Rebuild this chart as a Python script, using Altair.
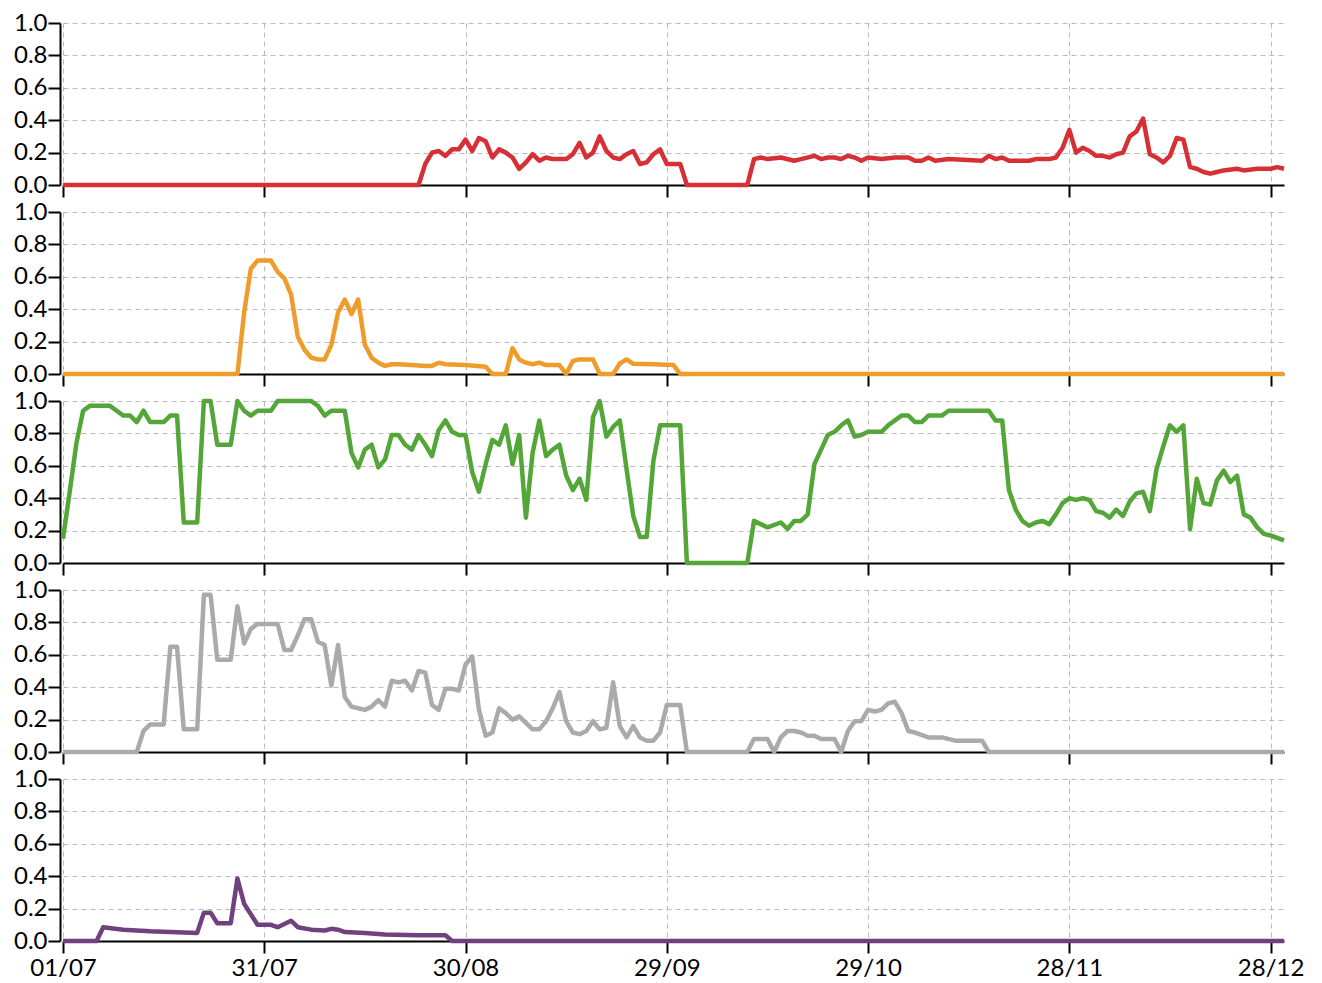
import altair as alt
import pandas as pd

# x positions are days counted from 01/07; ticks every 30 days
TICK_DAYS = [0, 30, 60, 90, 120, 150, 180]
TICK_LABELS = ["01/07", "31/07", "30/08", "29/09", "29/10", "28/11", "28/12"]
Y_TICKS = [0.0, 0.2, 0.4, 0.6, 0.8, 1.0]

red_days = [0, 53, 54, 55, 56, 57, 58, 59, 60, 61, 62, 63, 64, 65, 66, 67, 68, 69, 70, 71,
            72, 73, 74, 75, 76, 77, 78, 79, 80, 81, 82, 83, 84, 85, 86, 87, 88, 89, 90, 92,
            93, 102, 103, 104, 105, 107, 109, 110, 112, 113, 114, 115, 116, 117, 118, 119, 120, 122, 124, 126,
            127, 128, 129, 130, 132, 137, 138, 139, 140, 141, 144, 145, 147, 148, 149, 150, 151, 152, 153, 154,
            155, 156, 157, 158, 159, 160, 161, 162, 163, 164, 165, 166, 167, 168, 169, 170, 171, 172, 173, 175,
            176, 178, 180, 181, 182]
red_vals = [0, 0, 0.13, 0.2, 0.21, 0.18, 0.22, 0.22, 0.28, 0.21, 0.29, 0.27, 0.17, 0.22, 0.2, 0.17, 0.1, 0.14, 0.19, 0.15,
            0.17, 0.16, 0.16, 0.16, 0.19, 0.26, 0.17, 0.2, 0.3, 0.21, 0.17, 0.16, 0.19, 0.21, 0.13, 0.14, 0.19, 0.22, 0.13, 0.13,
            0, 0, 0.16, 0.17, 0.16, 0.17, 0.15, 0.16, 0.18, 0.16, 0.17, 0.17, 0.16, 0.18, 0.17, 0.15, 0.17, 0.16, 0.17, 0.17,
            0.15, 0.15, 0.17, 0.15, 0.16, 0.15, 0.18, 0.16, 0.17, 0.15, 0.15, 0.16, 0.16, 0.17, 0.23, 0.34, 0.2, 0.23, 0.21, 0.18,
            0.18, 0.17, 0.19, 0.2, 0.3, 0.33, 0.41, 0.19, 0.17, 0.14, 0.18, 0.29, 0.28, 0.11, 0.1, 0.08, 0.07, 0.08, 0.09, 0.1,
            0.09, 0.1, 0.1, 0.11, 0.1]

orange_days = [0, 26, 27, 28, 29, 31, 32, 33, 34, 35, 36, 37, 38, 39, 40, 41, 42, 43, 44, 45,
               46, 47, 48, 49, 50, 52, 54, 55, 56, 57, 60, 63, 64, 66, 67, 68, 69, 70, 71, 72,
               74, 75, 76, 77, 79, 80, 82, 83, 84, 85, 88, 91, 92, 182]
orange_vals = [0, 0, 0.38, 0.65, 0.7, 0.7, 0.63, 0.59, 0.49, 0.23, 0.15, 0.1, 0.09, 0.09, 0.18, 0.38, 0.46, 0.37, 0.46, 0.18,
               0.1, 0.07, 0.05, 0.06, 0.06, 0.055, 0.05, 0.05, 0.07, 0.06, 0.055, 0.045, 0, 0, 0.16, 0.09, 0.07, 0.06, 0.07, 0.055,
               0.055, 0, 0.08, 0.09, 0.09, 0, 0, 0.065, 0.09, 0.063, 0.06, 0.055, 0, 0]

green_days = [0, 1, 2, 3, 4, 7, 8, 9, 10, 11, 12, 13, 15, 16, 17, 18, 20, 21, 22, 23,
              25, 26, 27, 28, 29, 31, 32, 37, 38, 39, 40, 42, 43, 44, 45, 46, 47, 48, 49, 50,
              51, 52, 53, 54, 55, 56, 57, 58, 59, 60, 61, 62, 63, 64, 65, 66, 67, 68, 69, 70,
              71, 72, 73, 74, 75, 76, 77, 78, 79, 80, 81, 82, 83, 84, 85, 86, 87, 88, 89, 92,
              93, 102, 103, 105, 107, 108, 109, 110, 111, 112, 113, 114, 115, 116, 117, 118, 119, 120, 122, 123,
              124, 125, 126, 127, 128, 129, 131, 132, 138, 139, 140, 141, 142, 143, 144, 145, 146, 147, 148, 149,
              150, 151, 152, 153, 154, 155, 156, 157, 158, 159, 160, 161, 162, 163, 164, 165, 166, 167, 168, 169,
              170, 171, 172, 173, 174, 175, 176, 177, 178, 179, 180, 182]
green_vals = [0.15, 0.44, 0.74, 0.94, 0.97, 0.97, 0.94, 0.91, 0.91, 0.87, 0.94, 0.87, 0.87, 0.91, 0.91, 0.25, 0.25, 1.0, 1.0, 0.73,
              0.73, 1.0, 0.94, 0.91, 0.94, 0.94, 1.0, 1.0, 0.97, 0.91, 0.94, 0.94, 0.68, 0.59, 0.7, 0.73, 0.59, 0.64, 0.79, 0.79,
              0.73, 0.7, 0.79, 0.73, 0.66, 0.82, 0.88, 0.81, 0.79, 0.79, 0.56, 0.44, 0.61, 0.76, 0.73, 0.85, 0.61, 0.79, 0.28, 0.68,
              0.88, 0.66, 0.7, 0.73, 0.54, 0.45, 0.52, 0.39, 0.9, 1.0, 0.78, 0.84, 0.88, 0.58, 0.29, 0.16, 0.16, 0.63, 0.85, 0.85,
              0, 0, 0.26, 0.22, 0.25, 0.21, 0.26, 0.26, 0.3, 0.61, 0.7, 0.79, 0.81, 0.85, 0.88, 0.78, 0.79, 0.81, 0.81, 0.85,
              0.88, 0.91, 0.91, 0.87, 0.87, 0.91, 0.91, 0.94, 0.94, 0.88, 0.88, 0.45, 0.33, 0.26, 0.23, 0.25, 0.26, 0.24, 0.3, 0.37,
              0.4, 0.39, 0.4, 0.39, 0.32, 0.31, 0.28, 0.33, 0.29, 0.38, 0.43, 0.44, 0.32, 0.58, 0.72, 0.85, 0.81, 0.85, 0.21, 0.52,
              0.37, 0.36, 0.51, 0.57, 0.5, 0.54, 0.3, 0.28, 0.22, 0.18, 0.17, 0.14]

gray_days = [0, 11, 12, 13, 15, 16, 17, 18, 20, 21, 22, 23, 25, 26, 27, 28, 29, 32, 33, 34,
             35, 36, 37, 38, 39, 40, 41, 42, 43, 44, 45, 46, 47, 48, 49, 50, 51, 52, 53, 54,
             55, 56, 57, 58, 59, 60, 61, 62, 63, 64, 65, 66, 67, 68, 69, 70, 71, 72, 73, 74,
             75, 76, 77, 78, 79, 80, 81, 82, 83, 84, 85, 86, 87, 88, 89, 90, 92, 93, 102, 103,
             105, 106, 107, 108, 109, 110, 111, 112, 113, 115, 116, 117, 118, 119, 120, 121, 122, 123, 124, 125,
             126, 127, 129, 131, 133, 137, 138, 182]
gray_vals = [0, 0, 0.13, 0.17, 0.17, 0.65, 0.65, 0.14, 0.14, 0.97, 0.97, 0.57, 0.57, 0.9, 0.67, 0.76, 0.79, 0.79, 0.63, 0.63,
             0.72, 0.82, 0.82, 0.68, 0.66, 0.41, 0.66, 0.34, 0.28, 0.27, 0.26, 0.28, 0.32, 0.28, 0.44, 0.43, 0.44, 0.38, 0.5, 0.49,
             0.29, 0.26, 0.39, 0.39, 0.38, 0.54, 0.59, 0.26, 0.1, 0.12, 0.27, 0.24, 0.2, 0.22, 0.18, 0.14, 0.14, 0.19, 0.27, 0.37,
             0.19, 0.12, 0.11, 0.13, 0.19, 0.14, 0.15, 0.43, 0.16, 0.09, 0.16, 0.09, 0.07, 0.07, 0.12, 0.29, 0.29, 0, 0, 0.08,
             0.08, 0, 0.09, 0.13, 0.13, 0.12, 0.1, 0.1, 0.08, 0.08, 0, 0.13, 0.19, 0.19, 0.26, 0.25, 0.26, 0.3, 0.31, 0.24,
             0.13, 0.12, 0.09, 0.09, 0.07, 0.07, 0, 0]

purple_days = [0, 5, 6, 9, 13, 20, 21, 22, 23, 25, 26, 27, 29, 31, 32, 34, 35, 37, 39, 40,
               41, 42, 45, 48, 53, 57, 58, 182]
purple_vals = [0, 0, 0.085, 0.07, 0.06, 0.05, 0.175, 0.175, 0.11, 0.11, 0.385, 0.23, 0.1, 0.1, 0.085, 0.125, 0.085, 0.07, 0.065, 0.075,
               0.07, 0.055, 0.05, 0.04, 0.035, 0.035, 0, 0]

colors = ["#d62f36", "#ee9c2b", "#53a637", "#aaaaaa", "#70407f"]
series = [(red_days, red_vals), (orange_days, orange_vals), (green_days, green_vals),
          (gray_days, gray_vals), (purple_days, purple_vals)]

for d, v in series:
    assert len(d) == len(v), (len(d), len(v))

label_expr = "''"
for d, l in reversed(list(zip(TICK_DAYS, TICK_LABELS))):
    label_expr = f"datum.value == {d} ? '{l}' : ({label_expr})"

FONT = "Lato"
FONT_SIZE = 24
GRID = "#bbbbbb"


def panel(days, vals, color, last):
    df = pd.DataFrame({"day": days, "value": vals})
    x_axis = alt.Axis(values=TICK_DAYS, labelExpr=label_expr, labels=last, title=None,
                      grid=True, gridColor=GRID, gridDash=[5, 4], gridWidth=1,
                      domainColor="black", domainWidth=2, tickColor="black", tickWidth=2,
                      tickSize=12, labelFont=FONT, labelFontSize=FONT_SIZE, labelColor="black",
                      labelPadding=3, labelFlush=False, labelOverlap=False)
    y_axis = alt.Axis(values=Y_TICKS, format=".1f", title=None, offset=3,
                      grid=True, gridColor=GRID, gridDash=[5, 4], gridWidth=1,
                      domainColor="black", domainWidth=2, tickColor="black", tickWidth=2,
                      tickSize=12, labelFont=FONT, labelFontSize=FONT_SIZE, labelColor="black",
                      labelPadding=1, labelOverlap=False)
    return alt.Chart(df).mark_line(color=color, strokeWidth=4.5, strokeJoin="round").encode(
        x=alt.X("day:Q", scale=alt.Scale(domain=[0, 182], nice=False, zero=False), axis=x_axis),
        y=alt.Y("value:Q", scale=alt.Scale(domain=[0, 1], nice=False), axis=y_axis),
    ).properties(width=1221, height=162)


panels = [panel(d, v, c, i == len(series) - 1) for i, ((d, v), c) in enumerate(zip(series, colors))]

chart = alt.vconcat(*panels, spacing=27, bounds="flush").configure_view(
    stroke=None
).properties(
    padding={"left": 5, "top": 3, "right": 10, "bottom": 0}
)

chart.save("out.html", embed_options={"renderer": "svg", "actions": False})
